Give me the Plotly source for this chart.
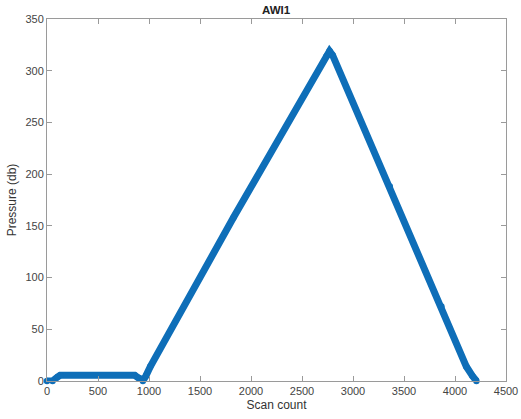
import plotly.graph_objects as go

scan = [0, 55, 105, 130, 860, 905, 940, 970, 1013, 1828, 2740, 2770, 2800, 3361, 3867, 4111, 4170, 4210]
pressure = [0, 0, 4, 5.5, 5.5, 3, 0, 5, 14, 158, 314, 319, 315, 188, 72, 14, 5, 0]

xticks = [0, 500, 1000, 1500, 2000, 2500, 3000, 3500, 4000, 4500]
yticks = [0, 50, 100, 150, 200, 250, 300, 350]

blue = "#0E6EB8"
font = "Liberation Sans, Arial, Helvetica, sans-serif"

fig = go.Figure()
fig.add_trace(go.Scatter(
    x=scan, y=pressure, mode="lines+markers",
    line=dict(color=blue, width=7),
    marker=dict(color=blue, size=6.4, line=dict(width=0)),
    showlegend=False, hoverinfo="skip", cliponaxis=False,
))

axis_common = dict(
    showgrid=False, zeroline=False, showline=True, mirror="ticks",
    linecolor="#9a9a9a", linewidth=1, ticks="inside", ticklen=5,
    tickcolor="#9a9a9a", tickfont=dict(family=font, size=11, color="#444444"),
    automargin=False,
)

fig.update_layout(
    width=521, height=419,
    margin=dict(l=46.5, r=14.5, t=19, b=38),
    paper_bgcolor="white", plot_bgcolor="white",
    title=dict(text="<b>AWI1</b>", x=0.53, xanchor="center",
               y=(419 - 10) / 419, yanchor="middle", yref="container",
               font=dict(family=font, size=11.5, color="#222222")),
    xaxis=dict(range=[0, 4500], tickvals=xticks,
               title=dict(text="Scan count", standoff=4,
                          font=dict(family=font, size=12, color="#333333")),
               **axis_common),
    yaxis=dict(range=[0, 350], tickvals=yticks,
               title=dict(text="Pressure (db)", standoff=6,
                          font=dict(family=font, size=12, color="#333333")),
               **axis_common),
)

fig.write_html("out.html")
